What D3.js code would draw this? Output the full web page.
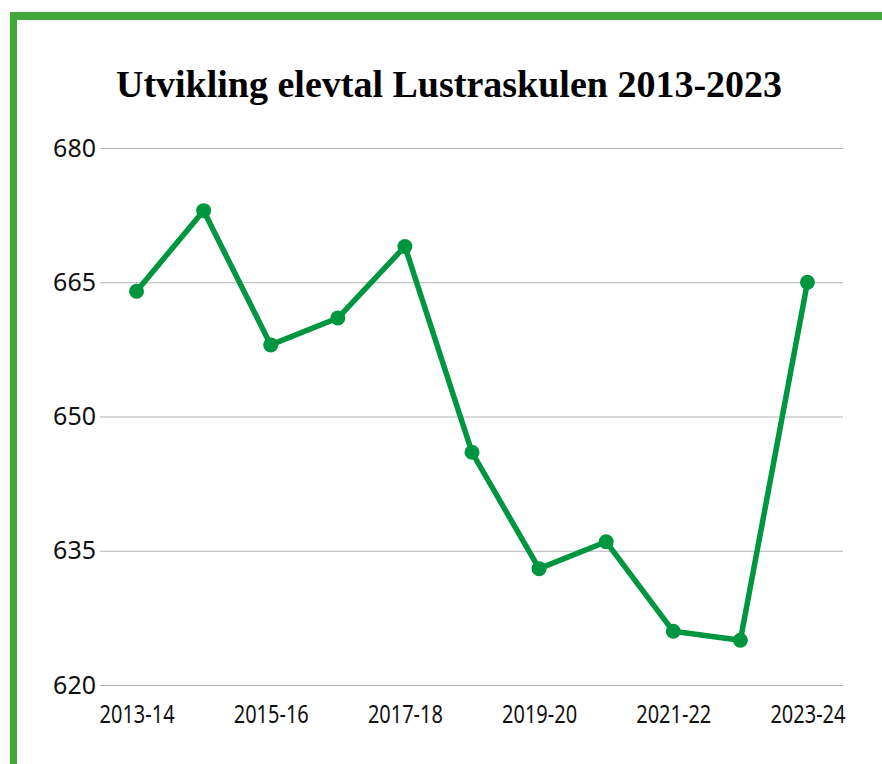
<!DOCTYPE html>
<html>
<head>
<meta charset="utf-8">
<script src="https://cdn.jsdelivr.net/npm/d3@7"></script>
<style>
  body { margin: 0; background: #fff; }
  svg { display: block; }
</style>
</head>
<body>
<svg id="chart" width="882" height="764"></svg>
<script>
// school years and pupil counts
const years = ["2013-14", "2014-15", "2015-16", "2016-17", "2017-18", "2018-19",
               "2019-20", "2020-21", "2021-22", "2022-23", "2023-24"];
const pupils = [664, 673, 658, 661, 669, 646, 633, 636, 626, 625, 665];
const yTicks = [620, 635, 650, 665, 680];
const xLabels = ["2013-14", "2015-16", "2017-18", "2019-20", "2021-22", "2023-24"];

const svg = d3.select("#chart");
const green = "#009640";

// frame: thick green line on top and left
svg.append("rect").attr("x", 10).attr("y", 12).attr("width", 900).attr("height", 8).attr("fill", "#43a83a");
svg.append("rect").attr("x", 10).attr("y", 12).attr("width", 7).attr("height", 800).attr("fill", "#43a83a");

svg.append("text")
    .attr("x", 449).attr("y", 97)
    .attr("text-anchor", "middle")
    .attr("font-family", "'Liberation Serif', 'Times New Roman', serif")
    .attr("font-weight", "bold")
    .attr("font-size", 38)
    .text("Utvikling elevtal Lustraskulen 2013-2023");

let x = d3.scalePoint().domain(years).range([103, 841]).padding(0.5);
let y = d3.scaleLinear().domain([620, 680]).range([685, 148]);

// gridlines + y labels
let yAxis = svg.append("g")
    .attr("transform", "translate(100,0)")
    .call(d3.axisLeft(y).tickValues(yTicks).tickSize(-743).tickPadding(4));
yAxis.select(".domain").remove();
yAxis.selectAll(".tick line").attr("stroke", "#b5b5b5");
yAxis.selectAll(".tick text")
    .attr("fill", "#111")
    .attr("font-family", "'Noto Sans', sans-serif")
    .attr("font-size", 25);

// x labels, every other year
let xAxis = svg.append("g")
    .attr("transform", "translate(0,705)")
    .call(d3.axisBottom(x).tickValues(xLabels).tickSize(0).tickPadding(0));
xAxis.select(".domain").remove();
xAxis.selectAll(".tick text")
    .attr("fill", "#111")
    .attr("font-family", "'Noto Sans', sans-serif")
    .attr("font-size", 25)
    .attr("dy", "0.71em")
    .attr("transform", "scale(0.8,1)");

let line = d3.line()
    .x((d, i) => x(years[i]))
    .y(d => y(d));

svg.append("path")
    .datum(pupils)
    .attr("fill", "none")
    .attr("stroke", green)
    .attr("stroke-width", 5.5)
    .attr("stroke-linejoin", "round")
    .attr("d", line);

svg.append("g")
    .selectAll("circle")
    .data(pupils)
    .enter().append("circle")
    .attr("cx", (d, i) => x(years[i]))
    .attr("cy", d => y(d))
    .attr("r", 7.5)
    .attr("fill", green);
</script>
</body>
</html>
